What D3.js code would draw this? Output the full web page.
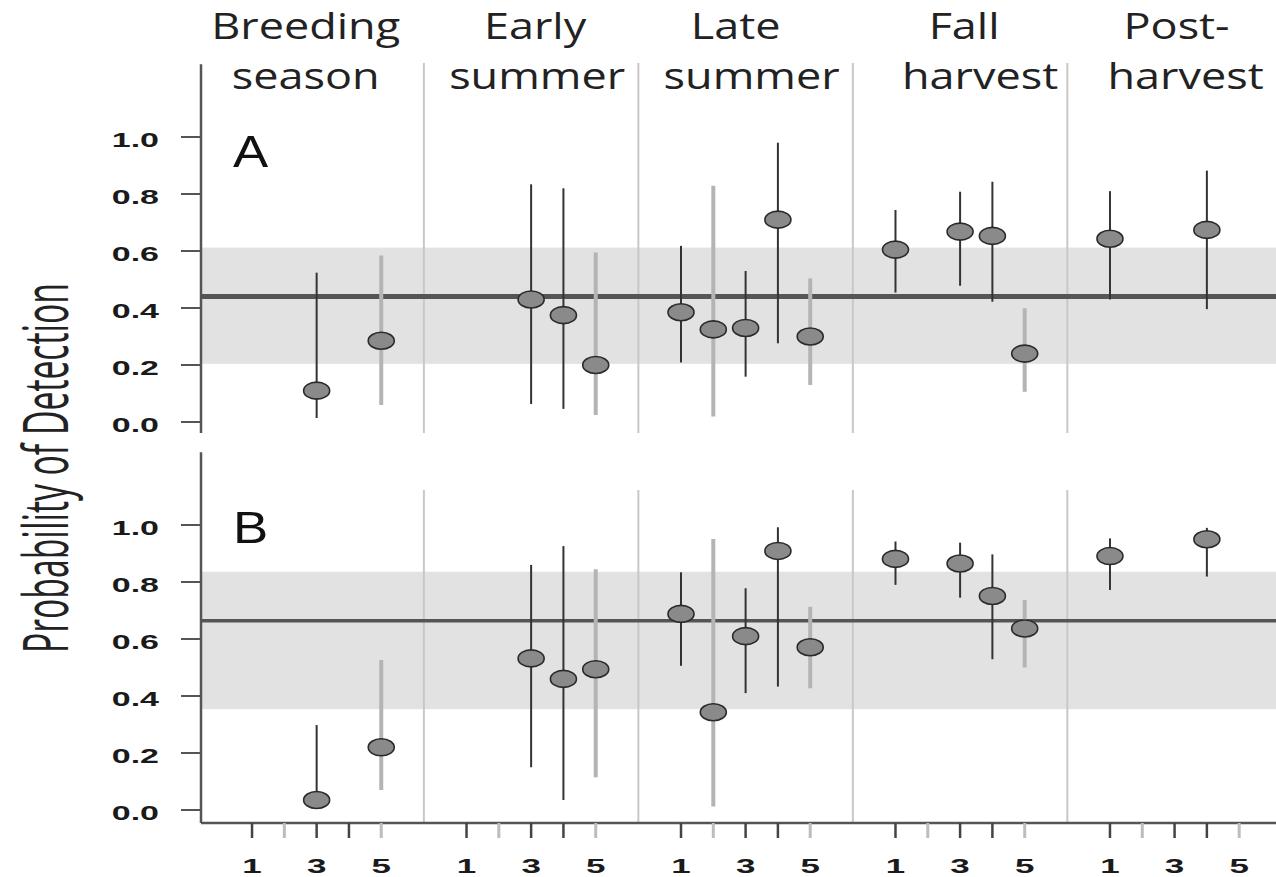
<!DOCTYPE html>
<html>
<head>
<meta charset="utf-8">
<script src="https://cdn.jsdelivr.net/npm/d3@7"></script>
<style>
  body { margin: 0; background: #fff; }
  svg { display: block; }
</style>
</head>
<body>
<svg id="chart" width="1276" height="877"></svg>
<script>
// seasons (two-line headers) and survey occasions
const seasons = [["Breeding", "season"], ["Early", "summer"], ["Late", "summer"], ["Fall", "harvest"], ["Post-", "harvest"]];
const occasions = [1, 2, 3, 4, 5];
const occasionLabels = [1, 3, 5];
const grayOccasions = [2, 5];
const yTicks = [0, 0.2, 0.4, 0.6, 0.8, 1.0];

// one entry per estimate
const pointSeason   = [0, 0, 1, 1, 1, 2, 2, 2, 2, 2, 3, 3, 3, 3, 4, 4];
const pointOccasion = [3, 5, 3, 4, 5, 1, 2, 3, 4, 5, 1, 3, 4, 5, 1, 4];

// panel A
const estA = [0.11, 0.285, 0.43, 0.375, 0.20, 0.385, 0.325, 0.33, 0.71, 0.30, 0.605, 0.668, 0.653, 0.24, 0.643, 0.674];
const loA  = [0.014, 0.06, 0.063, 0.046, 0.025, 0.209, 0.019, 0.159, 0.276, 0.13, 0.454, 0.478, 0.422, 0.106, 0.43, 0.396];
const hiA  = [0.524, 0.584, 0.834, 0.82, 0.595, 0.618, 0.829, 0.53, 0.98, 0.504, 0.744, 0.808, 0.843, 0.399, 0.81, 0.882];
const meanA = 0.44;
const bandA = [0.204, 0.612];

// panel B
const estB = [0.035, 0.22, 0.532, 0.46, 0.494, 0.688, 0.343, 0.61, 0.909, 0.571, 0.881, 0.865, 0.751, 0.637, 0.891, 0.95];
const loB  = [0.02, 0.07, 0.15, 0.035, 0.115, 0.506, 0.012, 0.41, 0.433, 0.427, 0.79, 0.745, 0.529, 0.5, 0.772, 0.819];
const hiB  = [0.298, 0.526, 0.86, 0.926, 0.845, 0.834, 0.951, 0.778, 0.992, 0.713, 0.942, 0.938, 0.897, 0.737, 0.953, 0.99];
const meanB = 0.664;
const bandB = [0.354, 0.836];

const svg = d3.select("#chart");
const W = +svg.attr("width");

const groupStep = 6.64;   // slots per season block
const slot = (g, o) => g * groupStep + (o - 1);
const x = d3.scaleLinear().domain([-1.58, 31.7]).range([201, W]);
const axisTop = 1.255;

const panels = [
  { name: "A", est: estA, lo: loA, hi: hiA, mean: meanA, band: bandA,
    y: d3.scaleLinear().domain([0, 1]).range([422, 137]), sepTop: 63, bottom: 433, meanW: 5, letterDy: 30 },
  { name: "B", est: estB, lo: loB, hi: hiB, mean: meanB, band: bandB,
    y: d3.scaleLinear().domain([0, 1]).range([810, 525]), sepTop: 490, bottom: 823, meanW: 3.5, letterDy: 18 }
];

const boldFont = "'Liberation Sans', Arial, sans-serif";

panels.forEach(p => {
  const g = svg.append("g");
  const y = p.y;

  // credible band
  g.append("rect")
    .attr("x", x(-1.58)).attr("width", W - x(-1.58))
    .attr("y", y(p.band[1])).attr("height", y(p.band[0]) - y(p.band[1]))
    .attr("fill", "#e2e2e2");

  // season separators
  d3.range(4).forEach(s => {
    const sx = x(s * groupStep + 5.32);
    g.append("line")
      .attr("x1", sx).attr("x2", sx)
      .attr("y1", p.sepTop).attr("y2", p.bottom)
      .attr("stroke", "#c8c8c8").attr("stroke-width", 2);
  });

  // overall mean
  g.append("line")
    .attr("x1", x(-1.58)).attr("x2", W)
    .attr("y1", y(p.mean)).attr("y2", y(p.mean))
    .attr("stroke", "#555").attr("stroke-width", p.meanW);

  // y axis
  g.append("line")
    .attr("x1", 201).attr("x2", 201)
    .attr("y1", y(axisTop)).attr("y2", p.bottom)
    .attr("stroke", "#555").attr("stroke-width", 2.5);

  yTicks.forEach(t => {
    g.append("line")
      .attr("x1", 181).attr("x2", 201)
      .attr("y1", y(t)).attr("y2", y(t))
      .attr("stroke", "#555").attr("stroke-width", 2);
    g.append("text")
      .attr("transform", `translate(159,${y(t) + 9.5}) scale(1.7,1)`)
      .attr("text-anchor", "end")
      .attr("font-family", boldFont).attr("font-weight", "bold")
      .attr("font-size", 20).attr("fill", "#1a1a1a")
      .text(t.toFixed(1));
  });

  // panel letter
  g.append("text")
    .attr("transform", `translate(233,${y(1) + p.letterDy}) scale(1.2,1)`)
    .attr("font-family", boldFont).attr("font-size", 44).attr("fill", "#111")
    .text(p.name);

  const idx = d3.range(p.est.length);

  // error bars
  g.selectAll(".bar").data(idx).enter().append("line")
    .attr("x1", i => x(slot(pointSeason[i], pointOccasion[i])))
    .attr("x2", i => x(slot(pointSeason[i], pointOccasion[i])))
    .attr("y1", i => y(p.lo[i])).attr("y2", i => y(p.hi[i]))
    .attr("stroke", i => grayOccasions.includes(pointOccasion[i]) ? "#b4b4b4" : "#333")
    .attr("stroke-width", i => grayOccasions.includes(pointOccasion[i]) ? 4 : 2);

  // estimates
  g.selectAll(".pt").data(idx).enter().append("ellipse")
    .attr("cx", i => x(slot(pointSeason[i], pointOccasion[i])))
    .attr("cy", i => y(p.est[i]))
    .attr("rx", 13).attr("ry", 8.5)
    .attr("fill", "#8a8a8a").attr("stroke", "#2a2a2a").attr("stroke-width", 1.6);
});

// x axis (bottom panel only)
svg.append("line")
  .attr("x1", 201).attr("x2", W).attr("y1", 823).attr("y2", 823)
  .attr("stroke", "#555").attr("stroke-width", 2.5);

seasons.forEach((s, gi) => {
  occasions.forEach(o => {
    const tx = x(slot(gi, o));
    const gray = grayOccasions.includes(o);
    svg.append("line")
      .attr("x1", tx).attr("x2", tx).attr("y1", 823).attr("y2", 838)
      .attr("stroke", gray ? "#bdbdbd" : "#444").attr("stroke-width", gray ? 3 : 2.5);
  });
  occasionLabels.forEach(o => {
    svg.append("text")
      .attr("transform", `translate(${x(slot(gi, o))},873) scale(1.75,1)`)
      .attr("text-anchor", "middle")
      .attr("font-family", boldFont).attr("font-weight", "bold")
      .attr("font-size", 20).attr("fill", "#1a1a1a")
      .text(o);
  });
});

// season headers
const headerShift = [[-11, -11], [4, 6], [-10, 6], [4, 20], [2, 11]];
seasons.forEach((s, gi) => {
  const cx = x(slot(gi, 3));
  s.forEach((line, li) => {
    svg.append("text")
      .attr("transform", `translate(${cx + headerShift[gi][li]},${li === 0 ? 39 : 88.5}) scale(1.25,1)`)
      .attr("text-anchor", "middle")
      .attr("font-family", "'Open Sans', sans-serif")
      .attr("font-size", 36).attr("fill", "#222")
      .text(line);
  });
});

// y title
svg.append("text")
  .attr("transform", "translate(68,468) rotate(-90) scale(1,2.05)")
  .attr("text-anchor", "middle")
  .attr("font-family", "'Open Sans', sans-serif")
  .attr("font-size", 30).attr("fill", "#222")
  .attr("textLength", 370).attr("lengthAdjust", "spacingAndGlyphs")
  .text("Probability of Detection");
</script>
</body>
</html>
